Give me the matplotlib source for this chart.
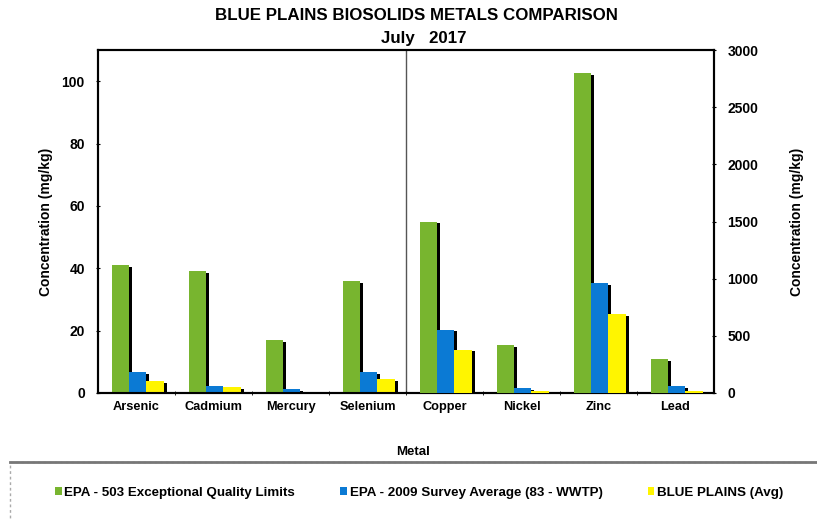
import numpy as np
import matplotlib
matplotlib.use("Agg")
import matplotlib.pyplot as plt
from matplotlib.patches import Rectangle

plt.rcParams['font.family'] = ['Liberation Sans', 'DejaVu Sans']
plt.rcParams['font.weight'] = 'bold'

# data
left_metals = ["Arsenic", "Cadmium", "Mercury", "Selenium"]
right_metals = ["Copper", "Nickel", "Zinc", "Lead"]
series_names = ["EPA - 503 Exceptional Quality Limits",
                "EPA - 2009 Survey Average (83 - WWTP)",
                "BLUE PLAINS (Avg)"]
epa503_left = [41, 39, 17, 36]
survey_left = [6.8, 2.4, 1.2, 6.8]
blueplains_left = [3.9, 1.8, 0.4, 4.5]
epa503_right = [1500, 420, 2800, 300]
survey_right = [555, 42, 965, 62]
blueplains_right = [380, 15, 690, 18]

colors = ["#78B52F", "#0B7AD4", "#FFF500"]

fig = plt.figure(figsize=(8.17, 5.21), dpi=100)
ax = fig.add_axes([0.12, 0.2457, 0.754, 0.6583])
ax2 = ax.twinx()

w = 0.225
offsets = [-0.21, 0.015, 0.24]
xl = np.arange(4)
xr = np.arange(4, 8)

def draw(axis, xs, groups, sx, sy):
    for k, vals in enumerate(groups):
        pos = xs + offsets[k]
        vals = np.array(vals)
        # dark shadow to the right
        axis.bar(pos + sx, np.maximum(vals - sy, 0), width=w, color="black",
                 align="center", zorder=2)
        axis.bar(pos, vals, width=w, color=colors[k], align="center", zorder=3,
                 label=series_names[k])

draw(ax, xl, [epa503_left, survey_left, blueplains_left], 0.04, 0.6)
draw(ax2, xr, [epa503_right, survey_right, blueplains_right], 0.04, 17)

ax.set_xlim(-0.5, 7.5)
ax.set_ylim(0, 110)
ax2.set_ylim(0, 3000)
ax.set_yticks(np.arange(0, 101, 20))
ax2.set_yticks(np.arange(0, 3001, 500))
ax.set_xticks(np.arange(8))
ax.set_xticklabels(left_metals + right_metals, fontsize=9.2, fontweight="bold")
ax.set_xticks(np.arange(0.5, 7.5, 1), minor=True)
ax.tick_params(axis="x", which="major", length=0, pad=6)
ax.tick_params(axis="x", which="minor", length=3, direction="inout")
ax.tick_params(axis="y", labelsize=10, length=3, direction="inout", pad=8)
ax2.tick_params(axis="y", labelsize=10, length=3, direction="inout", pad=8)
for lab in ax.get_yticklabels() + ax2.get_yticklabels():
    lab.set_fontweight("bold")

ax.axvline(3.5, color="#555555", lw=1, zorder=1)
for sp in ax.spines.values():
    sp.set_linewidth(1.5)
for sp in ax2.spines.values():
    sp.set_linewidth(1.5)

ax.set_ylabel("Concentration (mg/kg)", fontsize=10, fontweight="bold", labelpad=6)
ax2.set_ylabel("Concentration (mg/kg)", fontsize=10, fontweight="bold", labelpad=23)

fig.text(0.51, 0.971, "BLUE PLAINS BIOSOLIDS METALS COMPARISON", ha="center",
         va="center", fontsize=12.2, fontweight="bold")
fig.text(0.519, 0.927, "July   2017", ha="center", va="center", fontsize=12.2,
         fontweight="bold")
fig.text(0.505, 0.132, "Metal", ha="center", va="center", fontsize=9.5,
         fontweight="bold")

# legend box at the bottom
fig.patches.append(Rectangle((0.012, -0.01), 1.0, 0.124, transform=fig.transFigure,
                             fill=False, edgecolor="#aaaaaa", lw=1, ls=(0, (2, 2))))
fig.lines.append(plt.Line2D([0.012, 1.0], [0.114, 0.114], transform=fig.transFigure,
                            color="#777777", lw=2))
h1, l1 = ax.get_legend_handles_labels()
leg = fig.legend(h1, l1, loc="center", bbox_to_anchor=(0.513, 0.054), ncol=3,
                 frameon=False, fontsize=9.6, handlelength=0.5, handleheight=0.5,
                 handletextpad=0.2, columnspacing=3.4)
for t in leg.get_texts():
    t.set_fontweight("bold")

fig.savefig("out.png", dpi=100)
